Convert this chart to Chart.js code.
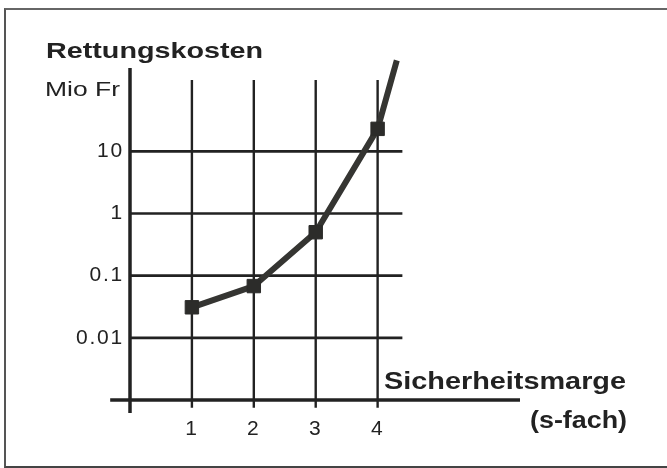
<!DOCTYPE html>
<html><head><meta charset="utf-8">
<script src="https://cdn.jsdelivr.net/npm/chart.js@4.4.1/dist/chart.umd.min.js"></script>
<style>
html,body{margin:0;padding:0;background:#fff;}
#wrap{position:relative;width:667px;height:468px;overflow:hidden;}
#frame{position:absolute;left:4px;top:8px;width:670px;height:456px;border-top:2px solid #666;border-left:2px solid #555;border-bottom:2px solid #444;pointer-events:none;}
</style></head><body>
<div id="wrap"><canvas id="c" width="667" height="468"></canvas><div id="frame"></div></div>
<script>
// ---- data ----
const sicherheitsmarge = [1, 2, 3, 4];
const rettungskosten = [0.031, 0.068, 0.5, 23];
const verlaufS = [4.31];      // line continues beyond last marker
const verlaufK = [290];
const xTickValues = [1, 2, 3, 4];
const xTickLabels = ['1', '2', '3', '4'];
const yTickValues = [0.01, 0.1, 1, 10];
const yTickLabels = ['0.01', '0.1', '1', '10'];

// ---- geometry / style ----
const X_MIN = 0, X_MAX = 6.3, Y_MIN = 0.001, Y_MAX = 1000;
const GRID_H_END = 4.4;
const GRID_V_TOP = 140, GRID_V_BOTTOM = 0.00075;
const YAXIS_TOP = 220, YAXIS_BOTTOM = 0.00062;
const XAXIS_LEFT = -0.32, XAXIS_RIGHT = 6.3;
const INK = '#222';

const lineData = sicherheitsmarge.map((s, i) => ({x: s, y: rettungskosten[i]}))
  .concat(verlaufS.map((s, i) => ({x: s, y: verlaufK[i]})));
const radii = sicherheitsmarge.map(() => 9.5).concat(verlaufS.map(() => 0));

function seg(data, width, color) {
  return {data, showLine: true, borderColor: color, borderWidth: width, pointRadius: 0,
    pointHoverRadius: 0, fill: false, clip: false, borderCapStyle: 'butt', tension: 0};
}
const datasets = [
  {data: lineData, showLine: true, borderColor: '#353532', borderWidth: 6, borderJoinStyle: 'round',
   pointStyle: 'rect', pointRadius: radii, pointBackgroundColor: '#2c2c2a', pointBorderColor: '#2c2c2a',
   pointBorderWidth: 1, clip: false, tension: 0},
  seg([{x: 0, y: YAXIS_BOTTOM}, {x: 0, y: YAXIS_TOP}], 3.5, INK),
  seg([{x: XAXIS_LEFT, y: Y_MIN}, {x: XAXIS_RIGHT, y: Y_MIN}], 3.5, INK),
];
yTickValues.forEach(v => datasets.push(seg([{x: 0, y: v}, {x: GRID_H_END, y: v}], 2.6, INK)));
xTickValues.forEach(v => datasets.push(seg([{x: v, y: GRID_V_BOTTOM}, {x: v, y: GRID_V_TOP}], 2.4, INK)));

const FONT = '"Liberation Sans", Arial, Helvetica, sans-serif';

function fitText(ctx, text, x, y, width, align) {
  const w = ctx.measureText(text).width;
  const s = width / w;
  ctx.save();
  ctx.translate(x, y);
  ctx.scale(s, 1);
  ctx.textAlign = 'left';
  ctx.fillText(text, align === 'right' ? -w : 0, 0);
  ctx.restore();
}

const textPlugin = {
  id: 'texts',
  beforeDraw(chart) { chart.ctx.letterSpacing = '1.8px'; },
  afterDraw(chart) {
    const ctx = chart.ctx;
    ctx.save();
    ctx.letterSpacing = '0px';
    ctx.fillStyle = INK;
    ctx.textBaseline = 'alphabetic';
    ctx.font = 'bold 22px ' + FONT;
    fitText(ctx, 'Rettungskosten', 46, 58, 217, 'left');
    ctx.font = '21px ' + FONT;
    fitText(ctx, 'Mio Fr', 45, 96, 75, 'left');
    ctx.font = 'bold 23px ' + FONT;
    fitText(ctx, 'Sicherheitsmarge', 626, 389, 242, 'right');
    fitText(ctx, '(s-fach)', 627, 428, 97, 'right');
    ctx.restore();
  }
};

new Chart(document.getElementById('c'), {
  type: 'scatter',
  data: {datasets},
  options: {
    responsive: false, animation: false, events: [],
    layout: {padding: {top: 27, right: 147, left: 0, bottom: 0}},
    plugins: {legend: {display: false}, tooltip: {enabled: false}, title: {display: false}},
    scales: {
      x: {
        type: 'linear', min: X_MIN, max: X_MAX,
        grid: {display: false, drawTicks: false}, border: {display: false},
        afterBuildTicks: s => { s.ticks = xTickValues.map(v => ({value: v})); },
        afterFit: s => { s.height = 68; },
        ticks: {autoSkip: false, maxRotation: 0, padding: 17, color: INK,
          font: {family: FONT, size: 21},
          callback: v => { const i = xTickValues.indexOf(v); return i >= 0 ? xTickLabels[i] : ''; }}
      },
      y: {
        type: 'logarithmic', min: Y_MIN, max: Y_MAX,
        grid: {display: false, drawTicks: false}, border: {display: false},
        afterBuildTicks: s => { s.ticks = yTickValues.map(v => ({value: v})); },
        afterFit: s => { s.width = 130; },
        ticks: {autoSkip: false, padding: 6, color: INK,
          font: {family: FONT, size: 21},
          callback: v => { const i = yTickValues.indexOf(v); return i >= 0 ? yTickLabels[i] : ''; }}
      }
    }
  },
  plugins: [textPlugin]
});
</script>
</body></html>
